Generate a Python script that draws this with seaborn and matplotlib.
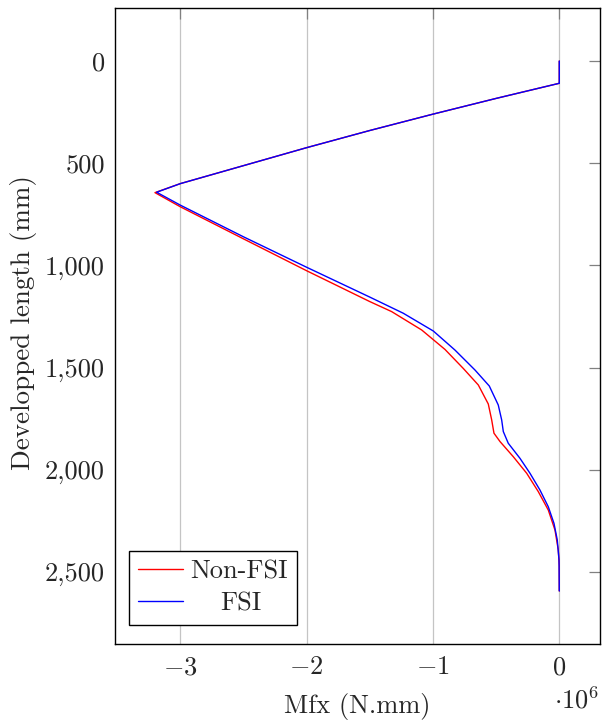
import pandas as pd
import matplotlib
matplotlib.use('Agg')
import matplotlib.pyplot as plt
import seaborn as sns
from matplotlib.ticker import FuncFormatter, FixedLocator

# Bending moment along the developped length (x in 1e6 N.mm, y in mm)
non_fsi_m = [0, 0, -0.5, -1.0, -1.5, -2.0, -2.5, -3.0, -3.20, -3.0, -2.5, -2.0, -1.5,
             -1.327, -1.089, -0.905, -0.760, -0.641, -0.562, -0.535, -0.517, -0.469,
             -0.364, -0.258, -0.166, -0.087, -0.034, -0.008, 0, 0]
non_fsi_len = [0, 109, 183, 260, 340, 424, 512, 600, 644, 713, 870, 1026, 1177,
               1226, 1316, 1411, 1504, 1585, 1678, 1756, 1821, 1862,
               1936, 2017, 2107, 2197, 2295, 2392, 2470, 2593]

fsi_m = [0, 0, -0.5, -1.0, -1.5, -2.0, -2.5, -3.0, -3.187, -3.0, -2.5, -2.0, -1.5,
         -1.235, -0.997, -0.826, -0.667, -0.554, -0.483, -0.456, -0.443, -0.404,
         -0.311, -0.232, -0.153, -0.087, -0.042, -0.016, -0.002, 0]
fsi_len = [0, 109, 183, 260, 340, 424, 512, 600, 642, 705, 860, 1009, 1155,
           1234, 1321, 1414, 1512, 1590, 1683, 1756, 1813, 1870,
           1944, 2017, 2099, 2181, 2262, 2343, 2441, 2593]

df = pd.concat([
    pd.DataFrame({'Mfx': non_fsi_m, 'length': non_fsi_len, 'case': 'Non-FSI'}),
    pd.DataFrame({'Mfx': fsi_m, 'length': fsi_len, 'case': 'FSI'}),
], ignore_index=True)

sns.set_style('white')
plt.rcParams['font.family'] = 'serif'
plt.rcParams['font.serif'] = ['cmr10', 'DejaVu Serif']
plt.rcParams['mathtext.fontset'] = 'cm'
plt.rcParams['axes.formatter.use_mathtext'] = True

FS = 19

fig = plt.figure(figsize=(6.02, 7.23), dpi=100)
ax = fig.add_axes([0.1905, 0.1088, 0.8057, 0.8806])

sns.lineplot(data=df, x='Mfx', y='length', hue='case', sort=False, estimator=None,
             palette={'Non-FSI': 'red', 'FSI': 'blue'}, linewidth=1.0, ax=ax)

ax.set_xlim(-3.519, 0.320)
ax.set_ylim(2854, -261)

ax.xaxis.set_major_locator(FixedLocator([-3, -2, -1, 0]))
ax.yaxis.set_major_locator(FixedLocator([0, 500, 1000, 1500, 2000, 2500]))
ax.xaxis.set_major_formatter(FuncFormatter(lambda v, p: f'${v:.0f}$'))
ax.yaxis.set_major_formatter(FuncFormatter(lambda v, p: f'{v:,.0f}'))

ax.grid(axis='x', color='#c4c4c4', linewidth=0.9)
ax.grid(axis='y', visible=False)
for s in ax.spines.values():
    s.set_color('black')
    s.set_linewidth(1.0)

ax.tick_params(axis='both', which='major', direction='in', length=8, width=0.9,
               color='#808080', labelsize=FS, top=True, right=True)
ax.tick_params(axis='x', pad=8)
ax.tick_params(axis='y', pad=7)

ax.set_xlabel('Mfx (N.mm)', fontsize=FS)
ax.set_ylabel('Developped length (mm)', fontsize=19.5)
ax.xaxis.set_label_coords(0.5, -0.076)
ax.yaxis.set_label_coords(-0.160, 0.505)

fig.text(554 / 602, 1 - 700 / 723, r'$\cdot 10^6$', fontsize=FS, va='center', ha='left')

handles, labels = ax.get_legend_handles_labels()
leg = ax.legend(handles, labels, loc='lower left', bbox_to_anchor=(0.030, 0.031),
                borderaxespad=0, fontsize=FS, frameon=True, fancybox=False,
                edgecolor='black', framealpha=1, handlelength=1.7, handletextpad=0.27,
                labelspacing=0.3, borderpad=0.35)
leg.get_frame().set_linewidth(1.0)
# centre the shorter label like the original legend
leg.get_texts()[1].set_x(30)

plt.savefig('out.png', dpi=100)
plt.close()
